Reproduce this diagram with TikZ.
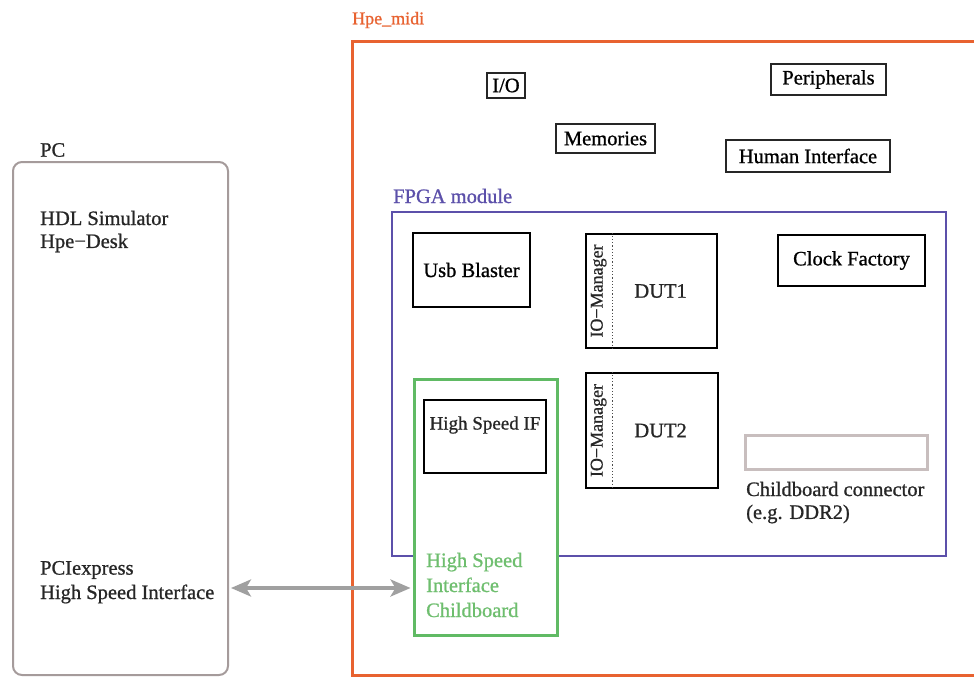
\documentclass[tikz,border=0pt]{standalone}
\usepackage{fontspec}
\setmainfont{Liberation Serif}[FakeBold=0.9]
\usetikzlibrary{arrows.meta}
\definecolor{orng}{RGB}{232,98,48}
\definecolor{purp}{RGB}{92,80,170}
\definecolor{grn}{RGB}{96,186,100}
\definecolor{grntxt}{RGB}{110,190,110}
\definecolor{pcgray}{RGB}{165,155,155}
\definecolor{arrgray}{RGB}{160,160,160}
\definecolor{cngray}{RGB}{200,190,190}
\begin{document}
\begin{tikzpicture}[x=1pt,y=-1pt,
  font=\fontsize{20.5}{24}\selectfont,
  blk/.style={draw=black, line width=2.8pt, fill=white, inner sep=0pt},
  topblk/.style={draw=black!85, line width=2.6pt, fill=white, inner sep=0pt},
  txt/.style={inner sep=0pt, text=black!85},
  lbl/.style={inner sep=0pt, anchor=west}]
\fill[white] (0,0) rectangle (974,677);
\useasboundingbox (0,0) rectangle (974,677);

% PC
\node[draw=pcgray, line width=2pt, rounded corners=9pt, minimum width=215, minimum height=513] (pc) at (120.5,418.5) {};
\node[lbl, text=black!85] (pclbl) at (40,150) {PC};
\node[lbl, text=black!85] (hdl) at (40,218) {HDL Simulator};
\node[lbl, text=black!85] (desk) at (40,243) {Hpe−Desk};
\node[lbl, text=black!85] (pcie) at (40,570) {PCIexpress};
\node[lbl, text=black!85] (hsi) at (40,594) {High Speed Interface};

% Hpe_midi
\node[draw=orng, line width=3pt, minimum width=640, minimum height=633] (midi) at (672,358.5) {};
\node[lbl, text=orng, font=\fontsize{18}{22}\selectfont] (midilbl) at (352,20) {Hpe\_midi};

\node[topblk, minimum width=38, minimum height=25] (io) at (506,85.5) {I/O};
\node[topblk, minimum width=115, minimum height=31] (peri) at (828.5,79.5) {Peripherals};
\node[topblk, minimum width=99, minimum height=29] (mem) at (605.5,138.5) {Memories};
\node[topblk, minimum width=164, minimum height=32] (hum) at (808,156) {Human Interface};

% FPGA module
\node[draw=purp, line width=2.5pt, minimum width=554, minimum height=344] (fpga) at (669,384) {};
\node[lbl, text=purp] (fpgalbl) at (393,196) {FPGA module};

\node[blk, minimum width=117, minimum height=74] (usb) at (471.5,270) {Usb Blaster};
\node[blk, minimum width=147, minimum height=51] (clk) at (851.5,260.5) {Clock Factory};

\node[blk, minimum width=131, minimum height=114] (dut1) at (651.5,291) {};
\node[txt, rotate=90, font=\fontsize{18}{22}\selectfont] (io1) at ([xshift=14pt]dut1.west) {IO−Manager};
\draw[dotted, line width=1.2pt, black!70] ([xshift=28pt]dut1.north west) -- ([xshift=28pt]dut1.south west);
\node[txt] (dut1t) at ([xshift=76pt]dut1.west) {DUT1};

\node[blk, minimum width=132, minimum height=115] (dut2) at (652,430.5) {};
\node[txt, rotate=90, font=\fontsize{18}{22}\selectfont] (io2) at ([xshift=14pt]dut2.west) {IO−Manager};
\draw[dotted, line width=1.2pt, black!70] ([xshift=28pt]dut2.north west) -- ([xshift=28pt]dut2.south west);
\node[txt] (dut2t) at ([xshift=76pt]dut2.west) {DUT2};

\node[draw=cngray, line width=3pt, minimum width=182, minimum height=34] (conn) at (836,452) {};
\node[lbl, text=black!85] (connt1) at (746,489) {Childboard connector};
\node[lbl, text=black!85] (connt2) at (746,514) {(e.g. DDR2)};

% High speed childboard
\node[draw=grn, fill=white, line width=3pt, minimum width=143, minimum height=256] (hsc) at (485.5,507) {};
\node[blk, minimum width=122, minimum height=73] (hsif) at (485,436.5) {};
\node[txt, font=\fontsize{19}{22}\selectfont] (hsift) at (485,425) {High Speed IF};
\node[lbl, text=grntxt, align=left, font=\fontsize{20.5}{25}\selectfont] (hsct) at (426,585) {High Speed\\Interface\\Childboard};

% arrow
\coordinate (ay) at (0,588);
\draw[arrgray, line width=3.5pt, {Stealth[length=20pt,width=17pt,inset=5pt]}-{Stealth[length=20pt,width=17pt,inset=5pt]}]
  ([xshift=2pt]pc.east |- ay) -- ([xshift=-2pt]hsc.west |- ay);
\end{tikzpicture}
\end{document}
